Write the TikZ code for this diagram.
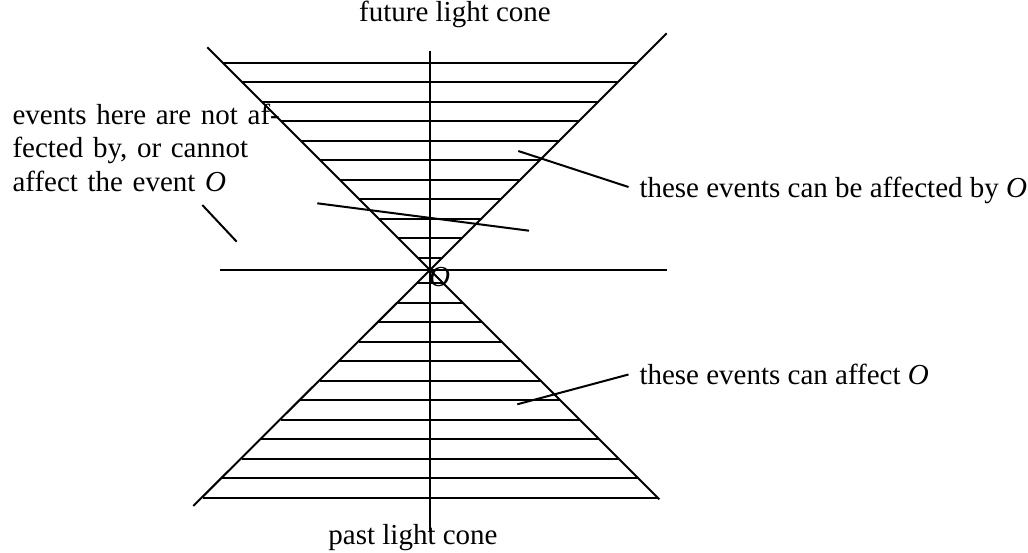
\documentclass[tikz,border=0pt]{standalone}
\usepackage{fontspec}
\setmainfont{Liberation Serif}
\usetikzlibrary{positioning}

\begin{document}
\begin{tikzpicture}[x=0.5pt,y=-0.5pt,line width=1pt,font=\fontsize{14.5}{16.65}\selectfont]
\tikzstyle{lbl}=[inner sep=0pt]
\tikzstyle{side}=[inner sep=5pt,text depth=0pt,anchor=west]
\useasboundingbox (0,0) rectangle (1028,552);
% cone and axes
\coordinate (O) at (430,270);
\coordinate (futL) at (207.3,47.3);
\coordinate (futR) at (666.7,33.3);
\coordinate (pastL) at (193.3,506);
\coordinate (pastR) at (659.3,499.3);
\coordinate (tTop) at (430,50.7);
\coordinate (tBot) at (430,531.7);
\coordinate (xL) at (220,270);
\coordinate (xR) at (666.7,270);
\draw (futL) -- (O) -- (pastR);
\draw (futR) -- (O) -- (pastL);
\draw (xL) -- (xR);
\draw (tTop) -- (tBot);
% hatching
\foreach \k in {0,...,10}{
  \pgfmathsetmacro\d{12.5+19.5*\k}
  \draw ([shift={(-\d,-\d)}]O) -- ([shift={(\d,-\d)}]O);
}
\foreach \k in {0,...,11}{
  \pgfmathsetmacro\d{13+19.5*\k}
  \draw ([shift={(-\d,\d)}]O) -- ([shift={(\d,\d)}]O);
}
% labels
\node[lbl,anchor=base] (future) at (455,21) {future light cone};
\node[lbl,anchor=base] (past) at (413,544) {past light cone};
\node[lbl,anchor=base west] (Olbl) at (428,286.5) {\textit{O}};
\node[side] (futlbl) at (628.5,187) {these events can be affected by \textit{O}};
\node[side] (pastlbl) at (628.5,374.5) {these events can affect \textit{O}};
\node[lbl,anchor=base west,text width=128pt,align=left] (elsewhere) at (11.5,124.5)
  {\makebox[\linewidth][s]{events here are not af-}\\
   \makebox[\linewidth][s]{fected by, or cannot}\\
   affect the event \textit{O}};
% leaders
\coordinate (futin) at (518.3,151);
\coordinate (pastin) at (517.3,404.3);
\draw (futin) -- (futlbl.west);
\draw (pastin) -- (pastlbl.west);
\coordinate (elsA) at (317.3,203.3);
\coordinate (elsB) at (529,230.7);
\coordinate (elsC) at (202.3,205);
\coordinate (elsD) at (236.7,241.7);
\draw (elsA) -- (elsB);
\draw (elsC) -- (elsD);
\end{tikzpicture}
\end{document}
